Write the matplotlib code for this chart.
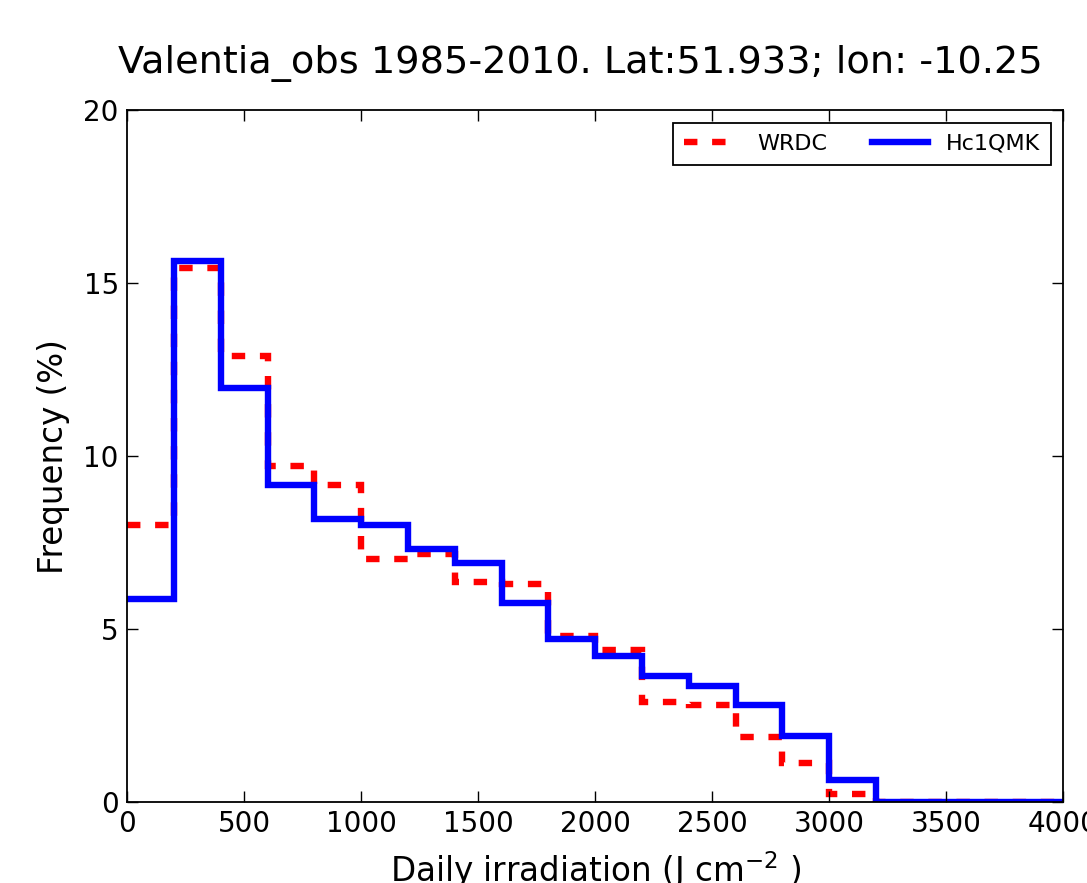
import matplotlib
matplotlib.use("Agg")
import matplotlib.pyplot as plt
import numpy as np

bin_edges = list(range(0, 4001, 200))
wrdc = [8.0, 15.45, 12.9, 9.7, 9.15, 7.02, 7.18, 6.35, 6.3, 4.8, 4.4,
        2.9, 2.8, 1.86, 1.12, 0.23, 0.0, 0.0, 0.0, 0.0]
hc1qmk = [5.87, 15.65, 11.97, 9.16, 8.17, 8.0, 7.3, 6.9, 5.75, 4.72, 4.21,
          3.64, 3.36, 2.8, 1.89, 0.64, 0.0, 0.0, 0.0, 0.0]
x_ticks = [0, 500, 1000, 1500, 2000, 2500, 3000, 3500, 4000]
y_ticks = [0, 5, 10, 15, 20]

fig = plt.figure(figsize=(10.87, 8.83), dpi=100)
ax = fig.add_axes([0.117, 0.092, 0.861, 0.783])

ax.stairs(wrdc, bin_edges, baseline=None, color=(1, 0, 0),
          linestyle=(0, (2.1, 2.3)), linewidth=4.6, label="WRDC")
ax.stairs(hc1qmk, bin_edges, baseline=None, color=(0, 0, 1), linestyle="-",
          linewidth=4.6, label="Hc1QMK")

ax.set_xlim(0, 4000)
ax.set_ylim(0, 20)
ax.set_xticks(x_ticks)
ax.set_yticks(y_ticks)
ax.tick_params(direction="in", top=True, right=True, length=8, width=1,
               labelsize=20, pad=6)
for s in ax.spines.values():
    s.set_linewidth(1.3)

ax.set_title("Valentia_obs 1985-2010. Lat:51.933; lon: -10.25", fontsize=27.5,
             pad=27, x=0.484)
ax.set_ylabel("Frequency (%)", fontsize=23.5, labelpad=10)
ax.set_xlabel("Daily irradiation (J cm$^{\\mathrm{-2}}$ )", fontsize=23.5, labelpad=8)

leg = ax.legend(loc="upper right", ncol=2, fontsize=16, fancybox=False,
                framealpha=1, edgecolor="black", handlelength=2.5,
                handletextpad=0.8, columnspacing=2.0, borderaxespad=0.55,
                borderpad=0.5)
leg.get_frame().set_linewidth(1.3)

fig.savefig("out.png", dpi=100)
